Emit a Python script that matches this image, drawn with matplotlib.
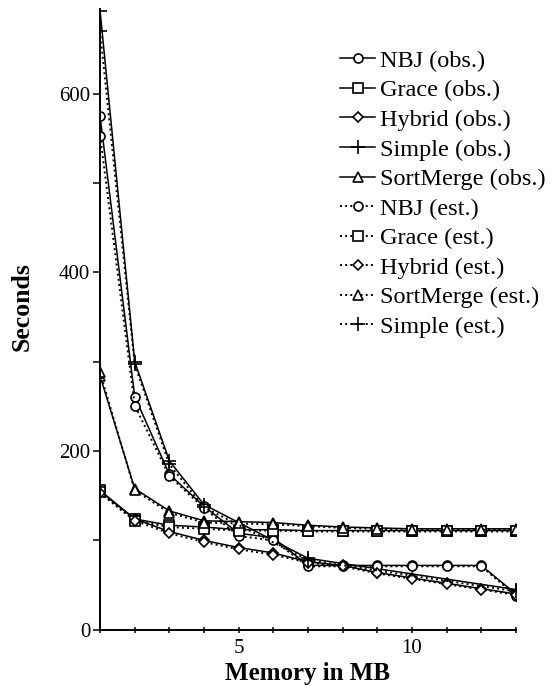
import matplotlib
matplotlib.use("Agg")
import matplotlib.pyplot as plt
from matplotlib.ticker import MultipleLocator, FixedLocator

plt.rcParams['font.family'] = ['Liberation Serif', 'DejaVu Serif']

# ======================
# DATA
# ======================
mem = [1, 2, 3, 4, 5, 6, 7, 8, 9, 10, 11, 12, 13]
mem_simple = [1, 2, 3, 4, 7, 13]

nbj_obs = [575, 261, 174, 138, 108, 103, 72, 72, 72, 72, 72, 72, 40]
grace_obs = [156, 124, 117, 115, 112, 112, 111, 111, 111, 111, 111, 111, 111]
hybrid_obs = [155, 124, 110, 100, 92, 86, 76, 72, 64, 58, 52, 46, 40]
simple_obs = [693, 300, 189, 140, 80, 45]
sortmerge_obs = [284, 158, 133, 122, 121, 120, 117, 115, 114, 113, 113, 113, 113]

nbj_est = [553, 251, 172, 136, 105, 100, 71, 71, 71, 71, 71, 71, 38]
grace_est = [154, 122, 115, 113, 111, 111, 110, 110, 110, 110, 110, 110, 110]
hybrid_est = [153, 122, 108, 98, 90, 84, 75, 71, 63, 57, 51, 45, 39]
sortmerge_est = [288, 156, 131, 120, 119, 118, 116, 114, 113, 112, 112, 112, 112]
simple_est = [670, 297, 185, 137, 78, 43]

# ======================
# PLOT
# ======================
fig = plt.figure(figsize=(5.59, 6.86), dpi=100)
ax = fig.add_axes([0.179, 0.082, 0.744, 0.905])

mk = dict(color='black', markerfacecolor='white', markeredgecolor='black',
          markersize=6.5, markeredgewidth=1.2)
lw_obs, lw_est = 1.1, 1.4

ax.plot(mem, nbj_obs, '-', marker='o', lw=lw_obs, label='NBJ (obs.)', **mk)
ax.plot(mem, grace_obs, '-', marker='s', lw=lw_obs, label='Grace (obs.)', **mk)
ax.plot(mem, hybrid_obs, '-', marker='D', lw=lw_obs, label='Hybrid (obs.)',
        **{**mk, 'markersize': 5})
ax.plot(mem_simple, simple_obs, '-', marker='+', lw=lw_obs, label='Simple (obs.)',
        **{**mk, 'markersize': 10})
ax.plot(mem, sortmerge_obs, '-', marker='^', lw=lw_obs, label='SortMerge (obs.)', **mk)

ax.plot(mem, nbj_est, ':', marker='o', lw=lw_est, label='NBJ (est.)', **mk)
ax.plot(mem, grace_est, ':', marker='s', lw=lw_est, label='Grace (est.)', **mk)
ax.plot(mem, hybrid_est, ':', marker='D', lw=lw_est, label='Hybrid (est.)',
        **{**mk, 'markersize': 5})
ax.plot(mem, sortmerge_est, ':', marker='^', lw=lw_est, label='SortMerge (est.)', **mk)
ax.plot(mem_simple, simple_est, ':', marker='+', lw=lw_est, label='Simple (est.)',
        **{**mk, 'markersize': 10})

ax.set_xlim(1, 13)
ax.set_ylim(0, 695)

ax.spines['top'].set_visible(False)
ax.spines['right'].set_visible(False)
ax.spines['left'].set_linewidth(1.4)
ax.spines['bottom'].set_linewidth(1.4)

ax.xaxis.set_major_locator(FixedLocator([5, 10]))
ax.xaxis.set_minor_locator(MultipleLocator(1))
ax.yaxis.set_major_locator(MultipleLocator(200))
ax.yaxis.set_minor_locator(MultipleLocator(100))
ax.tick_params(axis='x', which='both', direction='inout', length=5, width=1.1,
               labelsize=15, pad=4)
ax.tick_params(axis='y', which='both', direction='out', length=5, width=1.1,
               labelsize=15, pad=2)

ax.set_xlabel('Memory in MB', fontsize=18, fontweight='bold')
ax.set_ylabel('Seconds', fontsize=18.5, fontweight='bold')
ax.xaxis.set_label_coords(0.5, -0.052)
ax.yaxis.set_label_coords(-0.16, 0.52)

ax.legend(loc='upper left', bbox_to_anchor=(0.577, 0.934), frameon=False,
          fontsize=17.5, handlelength=1.45, handletextpad=0.2, labelspacing=0.31,
          borderpad=0, borderaxespad=0)

fig.savefig('out.png', dpi=100)
